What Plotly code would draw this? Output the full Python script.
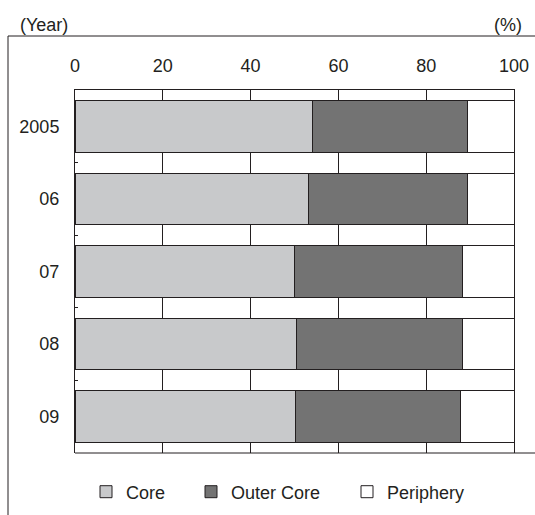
import plotly.graph_objects as go

years = ["2005", "06", "07", "08", "09"]
core = [54.2, 53.2, 50.0, 50.5, 50.3]
outer_core = [35.1, 36.2, 38.3, 37.7, 37.5]
periphery = [round(100 - c - o, 1) for c, o in zip(core, outer_core)]
x_ticks = [0, 20, 40, 60, 80, 100]

INK = "#231f20"
FONT = "Liberation Sans, Arial, Helvetica, sans-serif"

W, H = 535, 515
ML, MR, MT, MB = 75, 21, 90, 62
PW, PH = W - ML - MR, H - MT - MB


def px(x):
    return (x - ML) / PW


def py(y):
    return (H - MB - y) / PH


fig = go.Figure()
series = [("Core", core, "#c8c9cb", "legend", 86),
          ("Outer Core", outer_core, "#737373", "legend2", 191),
          ("Periphery", periphery, "#ffffff", "legend3", 347)]
legends = {}
for name, vals, col, lg, lx in series:
    fig.add_trace(go.Bar(
        name=name, y=years, x=vals, orientation="h", legend=lg,
        marker=dict(color=col, line=dict(color=INK, width=1)),
        hoverinfo="skip",
    ))
    legends[lg] = dict(orientation="h", x=px(lx), xanchor="left", y=py(492), yanchor="middle",
                       font=dict(size=18, color=INK, family=FONT), itemwidth=30,
                       bgcolor="rgba(0,0,0,0)")

fig.update_layout(
    width=W, height=H,
    margin=dict(l=ML, r=MR, t=MT, b=MB, autoexpand=False),
    paper_bgcolor="white", plot_bgcolor="white",
    barmode="stack", bargap=0.29,
    font=dict(family=FONT, size=18, color=INK),
    showlegend=True,
    **legends,
    xaxis=dict(range=[0, 100], side="top", tickvals=x_ticks, ticks="",
               showgrid=True, gridcolor=INK, gridwidth=1,
               showline=True, linecolor=INK, linewidth=1,
               zeroline=False, ticklabelstandoff=10, fixedrange=True),
    yaxis=dict(type="category", autorange="reversed", showgrid=False,
               showline=True, mirror=True, linecolor=INK, linewidth=1,
               ticks="inside", tickson="boundaries", ticklen=3, tickcolor=INK,
               ticklabelstandoff=11, fixedrange=True),
    annotations=[
        dict(text="(Year)", xref="paper", yref="paper", x=px(18), y=py(25),
             xanchor="left", yanchor="middle", showarrow=False, font=dict(size=18)),
        dict(text="(%)", xref="paper", yref="paper", x=px(524), y=py(25),
             xanchor="right", yanchor="middle", showarrow=False, font=dict(size=18)),
    ],
    shapes=[
        dict(type="line", xref="paper", yref="paper", x0=px(8), x1=px(535), y0=py(36), y1=py(36),
             line=dict(color=INK, width=1)),
        dict(type="line", xref="paper", yref="paper", x0=px(8), x1=px(8), y0=py(36), y1=py(515),
             line=dict(color=INK, width=1)),
        dict(type="line", xref="paper", yref="paper", x0=0, x1=px(535), y0=0, y1=0,
             line=dict(color=INK, width=1)),
    ],
)

fig.write_html("out.html", config={"displayModeBar": False, "staticPlot": True},
               post_script="document.body.style.margin='0';")
